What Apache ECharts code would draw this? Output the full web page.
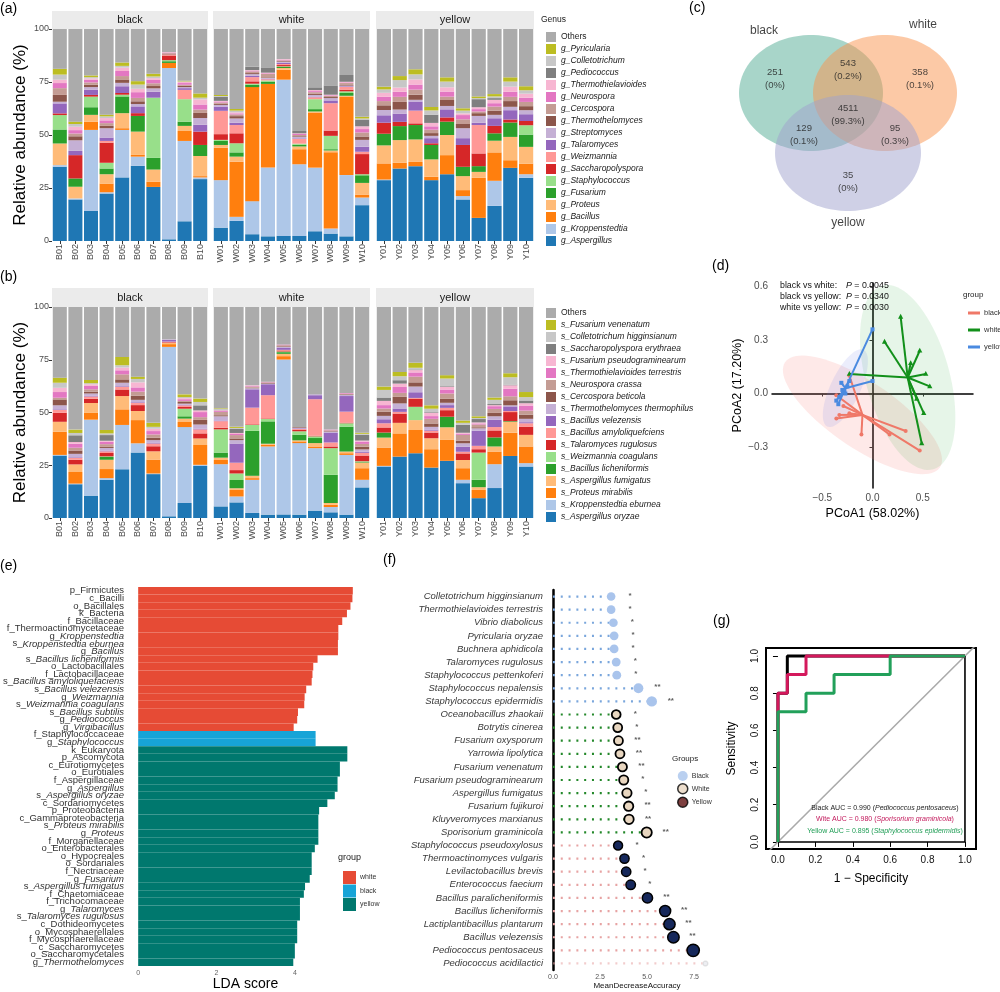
<!DOCTYPE html>
<html>
<head>
<meta charset="utf-8">
<title>Figure</title>
<script src="https://cdn.jsdelivr.net/npm/echarts/dist/echarts.min.js"></script>
<style>html,body{margin:0;padding:0;background:#fff;}#main{width:1000px;height:992px;}</style>
</head>
<body>
<div id="main"></div>
<script>
// ================= DATA =================
const blackSamples = ['B01','B02','B03','B04','B05','B06','B07','B08','B09','B10'];
const whiteSamples = ['W01','W02','W03','W04','W05','W06','W07','W08','W09','W10'];
const yellowSamples = ['Y01','Y02','Y03','Y04','Y05','Y06','Y07','Y08','Y09','Y10'];
const facetNames = ['black','white','yellow'];
const abundanceTicks = [0, 25, 50, 75, 100];

// genus (bottom -> top of stack)
const genusTaxa = ['g_Aspergillus','g_Kroppenstedtia','g_Bacillus','g_Proteus','g_Fusarium','g_Staphylococcus','g_Saccharopolyspora','g_Weizmannia','g_Talaromyces','g_Streptomyces','g_Thermothelomyces','g_Cercospora','g_Neurospora','g_Thermothielavioides','g_Pediococcus','g_Colletotrichum','g_Pyricularia'];
const genusBlack = [
  [35,0.8,0,10.2,6.6,6.8,0.8,0,4.7,0.8,3.2,3.2,2.4,1.6,0,2.4,2.7],
  [19.6,0.5,0,5.5,3.9,0,11,0,2,5,1.9,1.3,1.6,1.6,0,1.3,1.1],
  [14.2,38.2,3.9,3.2,3.6,5,0.8,0,2.4,1.3,1.1,1.1,1.3,0.6,0,0.6,0.8],
  [22.4,0.6,4.1,4.4,2.7,2.7,9.5,0.8,1.6,4.4,1.1,1.3,1.3,1.1,0,0.8,0.8],
  [30,22.4,0.8,7.1,7.9,0.8,0.8,0,3.2,1.6,1.6,1.6,2.4,1.6,0,0.8,1.6],
  [35.5,4.3,0.8,11,7.4,0,1.3,0,3.2,1.1,1.3,1.6,2.7,1.6,0,2,1.6],
  [25.5,0,2.4,5.8,5.5,28.4,0,0,2.8,1.6,1.1,1.3,1.6,0.8,0,0.8,1.3],
  [0.8,80.8,2.4,0,0.8,0.5,2.2,0.5,0,0,0.5,0,0,0.6,0,0,0],
  [9.3,37.9,4.7,2.4,2,10.6,0,4.4,0.8,0.5,0.6,0.5,0.8,0.5,0,0.3,0.3],
  [29.2,0.8,0.6,9.5,5.2,0,6.3,0,3.2,3.2,2.4,1.6,2.4,2.4,0,0.8,2]
];
const genusWhite = [
  [6.3,22.4,15.3,1.3,1.9,0.5,2.7,11,2,0.8,0.5,0.6,0.5,0.3,2,0.3,0.5],
  [9.5,1.9,26,2.4,2,4.3,4.7,3.9,1.1,2,1.1,0.8,0.5,0.5,0,0.8,0.8],
  [3.2,15.6,53.8,0,1.1,0.5,1.1,2,0.6,0.8,0.5,0.8,0.3,0.3,1.6,0,0],
  [2.2,32.5,39.4,0,1.1,0.5,0,0.6,0.3,0.3,0.3,1.6,0.3,0.3,2.5,0,0],
  [2.4,73.7,4.7,0.8,0.5,0.3,0.6,0.5,0.6,0.5,0.3,0.3,0.3,0.3,0,0,0],
  [2.4,33.8,7.1,1.3,0.8,0.5,0,2.2,0.3,0.8,0.3,0.5,0.5,0.3,1.1,0,0],
  [4.6,30,26,0.5,1.1,4.7,0,0.9,0.3,0.8,0.5,0.8,0.5,0.5,1.3,0,0],
  [3.5,2.4,36,0.8,0.6,6.3,2.5,12.9,1.3,1.1,0.5,0.5,0.3,0.3,4.4,0,0],
  [2.2,28.9,37.1,0.3,1.3,0.8,0.8,1.3,0.3,0.3,0.3,0.9,0.3,0.3,3.2,0,0],
  [16.9,3.6,1.4,5.5,3.6,0.5,9.5,1.1,2.4,3.2,1.6,1.9,1.6,1.3,3.2,0.5,0.8]
];
const genusYellow = [
  [28.7,0.3,7.6,8.5,5.5,0,5.2,0,3.5,2.5,2.2,2,2,1.9,0,1.6,1.3],
  [34.2,0,2.7,10.7,6.6,0,2,0,3.9,1.9,3.6,2.4,2.4,2,0,3.5,1.9],
  [35.3,0,2,10.6,6.8,0,0.8,6,4.3,0.8,2.4,2.4,2.4,2.4,0,2.4,2.4],
  [28.7,0,1.6,8.2,6.8,0,0.8,0,2.4,1.1,1.3,1.6,1.6,1.6,3.9,2,1.6],
  [31.5,0,9,9.5,6.3,0,2,0,3.8,1.6,2.8,1.6,2.4,2,0,2.7,2],
  [19.6,1.6,2.8,6.6,4.4,0,10.3,0,3.2,4.7,2,2.2,2,0.8,0,1.3,1.1],
  [10.9,0,18.9,2.8,2.7,0,6,13.4,1.1,3.2,1.3,0.8,1.1,0.9,3.8,0.5,0.8],
  [16.6,11.8,13.4,5.5,3.5,0,3.5,0,3.6,1.6,2,1.9,1.6,1.6,0.8,0.8,1.1],
  [34.5,0,3.6,11,6.8,0,1.4,0,4.4,1.6,2.7,2,2.4,2.4,0,2.4,2],
  [29.8,1.7,5,7.9,5.8,4.4,2,0,3.2,1.9,1.9,2,2,1.9,0,1.6,1.9]
];

// species (bottom -> top of stack)
const speciesTaxa = ['s_Aspergillus oryzae','s_Kroppenstedtia eburnea','s_Proteus mirabilis','s_Aspergillus fumigatus','s_Bacillus licheniformis','s_Weizmannia coagulans','s_Talaromyces rugulosus','s_Bacillus amyloliquefciens','s_Bacillus velezensis','s_Thermothelomyces thermophilus','s_Cercospora beticola','s_Neurospora crassa','s_Thermothielavioides terrestris','s_Fusarium pseudograminearum','s_Saccharopolyspora erythraea','s_Colletotrichum higginsianum','s_Fusarium venenatum'];
const speciesBlack = [
  [29.6,0.3,11,4.7,0,0,4.3,1.3,0.3,1.9,2.8,0.8,2.7,2,0,2.4,2.4],
  [16,0.3,5.5,3.6,0,0,2.2,0.9,0.3,1.6,1.6,1.3,1.9,0.8,3.2,1.1,1.6],
  [10.6,36,3.2,4.7,0,0,2,1.1,0.3,1.1,0.9,1.1,1.6,0.8,0,0.5,1.5],
  [18.1,0.8,4.3,4.4,1.3,0.3,1.6,0.8,0.3,1.3,0.5,1.3,1.1,0.5,2.7,0.8,1.6],
  [23.1,21,7.4,6.3,0,0,3.1,1.3,0.3,1.6,1.6,2.4,1.9,1.3,0,1.1,3.9],
  [31,4.4,11,4.3,0,0,2.8,1.1,0.3,1.1,2,1.9,2,2.4,0,1.6,1.1],
  [20.8,0.3,6.6,3.9,0,0,2.4,1.3,0.3,1.3,1.1,1.6,1.6,1.1,0,0.9,1.9],
  [0.8,80.3,1.3,0.6,0,0,0.3,0.3,0.8,0.3,0,0,0,0,0,0,0],
  [7.1,36,2.4,1.6,1.1,3.6,0.8,0.8,0.3,0.5,0.8,0.5,0.8,0.5,0,0.5,1.3],
  [24.7,0.5,9.4,3.1,0,0,2.4,1.9,0.3,2,2.2,1.3,2.4,0.8,2.4,1.6,1.6]
];
const speciesWhite = [
  [5.5,20,2,1.1,2.4,11,0.8,3.1,0.3,2,0.5,1.6,0.5,0.3,0.3,0.3,0.3],
  [7.4,2.8,3.1,0.8,3.9,3.1,1.6,3.5,9.1,1.6,0.8,1.6,0.5,0.5,1.9,0.5,0.5],
  [2.4,15.7,0.8,1.1,21.3,2.8,0.3,7.9,8.7,0.5,0.3,0.5,0.3,0.3,0,0,0],
  [1.6,32.3,0.8,0.5,10.6,1.1,0.3,11,5.2,0.3,0.3,0.3,0.3,0,0,0,0],
  [1.7,73.4,1.6,1.1,0.8,0.3,0.5,0.3,1.1,0.3,0.3,0.5,0.3,0,0,0,0],
  [1.6,33.9,0.8,0.5,2.7,1.6,0.8,0.3,0.3,0.3,0.3,0,0,0,0,0,0],
  [3.5,29.6,0.8,1.6,2.4,0.8,0.3,17.3,1.9,0.5,0,0,0,0,0,0,0],
  [2.7,2.5,1.1,0.8,13.4,12.6,0.8,1.9,4.7,0.5,0.3,0.3,0.3,0,0,0,0],
  [1.6,28.3,0.8,0.8,11.8,1.6,0.3,5.2,7.4,0.5,0.3,0.3,0.3,0,0,0,0],
  [14.5,3.6,5.5,2.7,0.3,0.3,2.7,1.3,0.5,1.1,1.3,1.3,1.1,0.5,2.7,0.5,0.5]
];
const speciesYellow = [
  [24.4,0.3,8.7,4.7,2.4,0,2.4,2,1.9,1.6,1.9,1.6,1.6,2,1.6,3.6,1.6],
  [29.1,0,11,5,0,0,4.4,0.8,1.6,2.4,3.1,1.9,2.8,1.6,1.6,1.9,2],
  [30.7,0,11,4.7,0,6.3,3.9,0.3,2.7,2.7,2,2.7,2,1.1,0.3,0.8,2.4],
  [23.9,0,8.7,5.2,0,0,2.7,0.9,0.5,1.3,1.6,2.2,1.3,1.6,0.3,1.6,1.6],
  [27.1,0,9.9,6,5,0,3.1,1.1,1.3,1.1,2,2.4,1.9,1.3,0.3,3.6,1.6],
  [16.5,1.6,5.5,3.9,0,0,3.1,0.8,2.4,1.6,1.3,2.7,0.5,0.5,3.8,0.9,1.1],
  [9.4,0,3.9,1.3,3.5,12.9,1.6,1.6,7.2,1.1,0.5,1.3,0.5,0.5,1.6,0.5,0.8],
  [14.2,11.3,6,2.4,4.3,0,3.3,1.6,3.5,1.6,1.6,1.9,1.3,0.5,0.5,2,1.1],
  [29.4,0,11,5.2,0.3,0,4.3,0.5,2.2,0.5,2.4,1.9,3.6,1.6,0.3,3.5,1.9],
  [24.4,1.6,7.9,5.5,0,0,3.9,1.6,0.5,1.6,2,1.9,2.4,1.1,1.3,1.6,2.4]
];

// Venn (c)
const vennSetNames = ['black','white','yellow'];
const vennRegionCounts = [251, 543, 358, 4511, 129, 95, 35];
const vennRegionPercents = ['0%','0.2%','0.1%','99.3%','0.1%','0.3%','0%'];

// PCoA (d)
const pcoaGroups = ['black','white','yellow'];
const pcoaBlackX = [0.33, 0.47, 0.17, -0.11, -0.36, -0.33, -0.36, -0.23, -0.29, -0.23];
const pcoaBlackY = [-0.21, -0.32, -0.23, -0.23, -0.14, -0.12, -0.01, 0.10, -0.07, -0.11];
const pcoaWhiteX = [0.28, 0.12, 0.47, 0.53, 0.57, 0.51, 0.49, -0.23, 0.44, 0.38];
const pcoaWhiteY = [0.43, 0.29, 0.24, 0.11, 0.04, -0.11, -0.28, 0.11, -0.03, 0.17];
const pcoaYellowX = [0.00, 0.00, -0.31, -0.34, -0.33, -0.30, -0.23, -0.36, -0.27, -0.25];
const pcoaYellowY = [0.36, 0.07, 0.06, -0.06, -0.02, 0.02, 0.07, -0.04, 0.00, 0.04];
const pcoaCentroidX = [-0.10, 0.35, -0.27];
const pcoaCentroidY = [-0.12, 0.09, 0.03];
const pcoaTests = ['black vs white:', 'black vs yellow:', 'white vs yellow:'];
const pcoaPValues = ['0.0045', '0.0340', '0.0030'];
const pcoaXTicks = [-0.5, 0, 0.5];
const pcoaYTicks = [-0.3, 0, 0.3, 0.6];

// LEfSe (e)
const ldaFeatures = ['p_Firmicutes','c_Bacilli','o_Bacillales','k_Bacteria','f_Bacillaceae','f_Thermoactinomycetaceae','g_Kroppenstedtia','s_Kroppenstedtia eburnea','g_Bacillus','s_Bacillus licheniformis','o_Lactobacillales','f_Lactobacillaceae','s_Bacillus amyloliquefaciens','s_Bacillus velezensis','g_Weizmannia','s_Weizmannia coagulans','s_Bacillus subtilis','g_Pediococcus','g_Virgibacillus','f_Staphylococcaceae','g_Staphylococcus','k_Eukaryota','p_Ascomycota','c_Eurotiomycetes','o_Eurotiales','f_Aspergillaceae','g_Aspergillus','s_Aspergillus oryzae','c_Sordariomycetes','p_Proteobacteria','c_Gammaproteobacteria','s_Proteus mirabilis','g_Proteus','f_Morganellaceae','o_Enterobacterales','o_Hypocreales','o_Sordariales','f_Nectriaceae','g_Fusarium','s_Aspergillus fumigatus','f_Chaetomiaceae','f_Trichocomaceae','g_Talaromyces','s_Talaromyces rugulosus','c_Dothideomycetes','o_Mycosphaerellales','f_Mycosphaerellaceae','c_Saccharomycetes','o_Saccharomycetales','g_Thermothelomyces'];
const ldaScores = [5.48,5.47,5.42,5.33,5.21,5.11,5.11,5.10,5.10,4.58,4.47,4.45,4.43,4.29,4.25,4.24,4.08,4.06,3.97,4.53,4.53,5.34,5.34,5.15,5.15,5.09,5.09,5.02,4.83,4.62,4.60,4.60,4.60,4.60,4.51,4.43,4.43,4.43,4.38,4.26,4.23,4.13,4.13,4.13,4.06,4.06,4.06,4.00,4.00,3.96];
const ldaGroups = ['white','white','white','white','white','white','white','white','white','white','white','white','white','white','white','white','white','white','white','black','black','yellow','yellow','yellow','yellow','yellow','yellow','yellow','yellow','yellow','yellow','yellow','yellow','yellow','yellow','yellow','yellow','yellow','yellow','yellow','yellow','yellow','yellow','yellow','yellow','yellow','yellow','yellow','yellow','yellow'];
const ldaGroupOrder = ['white','black','yellow'];
const ldaTicks = [0, 2, 4];

// Random forest (f)
const rfSpecies = ['Colletotrichum higginsianum','Thermothielavioides terrestris','Vibrio diabolicus','Pyricularia oryzae','Buchnera aphidicola','Talaromyces rugulosus','Staphylococcus pettenkoferi','Staphylococcus nepalensis','Staphylococcus epidermidis','Oceanobacillus zhaokaii','Botrytis cinerea','Fusarium oxysporum','Yarrowia lipolytica','Fusarium venenatum','Fusarium pseudograminearum','Aspergillus fumigatus','Fusarium fujikuroi','Kluyveromyces marxianus','Sporisorium graminicola','Staphylococcus pseudoxylosus','Thermoactinomyces vulgaris','Levilactobacillus brevis','Enterococcus faecium','Bacillus paralicheniformis','Bacillus licheniformis','Lactiplantibacillus plantarum','Bacillus velezensis','Pediococcus pentosaceus','Pediococcus acidilactici'];
const rfValues = [3.09,3.09,3.21,3.25,3.25,3.36,3.39,4.54,5.25,3.36,3.44,3.48,3.56,3.69,3.76,3.93,4.02,4.04,4.98,3.46,3.80,3.89,4.13,5.02,5.96,6.19,6.40,7.45,8.10];
const rfGroups = ['Black','Black','Black','Black','Black','Black','Black','Black','Black','White','White','White','White','White','White','White','White','White','White','Yellow','Yellow','Yellow','Yellow','Yellow','Yellow','Yellow','Yellow','Yellow','Yellow'];
const rfSig = ['*','*','*','*','*','*','*','**','**','*','*','**','**','**','*','*','**','**','**','*','*','*','*','**','**','**','**','',''];
const rfFaded = ['Pediococcus acidilactici'];
const rfGroupOrder = ['Black','White','Yellow'];
const rfTicks = [0, 2.5, 5, 7.5];

// ROC (g)
const rocBlackX = [0, 0, 0.05, 0.05, 1];
const rocBlackY = [0, 0.8, 0.8, 1, 1];
const rocWhiteX = [0, 0, 0.05, 0.05, 0.15, 0.15, 1];
const rocWhiteY = [0, 0.8, 0.8, 0.9, 0.9, 1, 1];
const rocYellowX = [0, 0, 0.15, 0.15, 0.3, 0.3, 0.6, 0.6, 1];
const rocYellowY = [0, 0.7, 0.7, 0.8, 0.8, 0.9, 0.9, 1, 1];
const rocTicks = [0, 0.2, 0.4, 0.6, 0.8, 1];
const rocAucLabels = ['Black AUC = 0.990', 'Wite AUC = 0.980', 'Yellow AUC = 0.895'];
const rocAucSpecies = ['Pediococcus pentosaceus', 'Sporisorium graminicola', 'Staphylococcus epidermidis'];

// ================= CHART =================
const FONT = '"Liberation Sans", Arial, Helvetica, sans-serif';
const TXT = '#4d4d4d';
const chart = echarts.init(document.getElementById('main'), null, {renderer: 'canvas'});
const grid = [], xAxis = [], yAxis = [], series = [], legend = [], graphic = [];

function text(t, x, y, size, opts) {
  opts = opts || {};
  graphic.push({type: 'text', x: x, y: y, silent: true, z: 100, style: Object.assign({
    text: t, fontSize: size, fontFamily: FONT, fill: opts.fill || '#000',
    textAlign: opts.align || 'left', textVerticalAlign: opts.valign || 'middle'
  }, opts.extra || {})});
}
function zip(xs, ys) { return xs.map((x, i) => [x, ys[i]]); }
const minusFmt = d => v => (v < 0 ? '\u2212' : '') + Math.abs(v).toFixed(d);

// ---------- (a)/(b) stacked bars ----------
const facetLeft = [52, 213, 376];
const facetWidth = [156, 157, 158];
const facetSamples = [blackSamples, whiteSamples, yellowSamples];
const tab20 = ['#1f77b4','#aec7e8','#ff7f0e','#ffbb78','#2ca02c','#98df8a','#d62728','#ff9896','#9467bd','#c5b0d5','#8c564b','#c49c94','#e377c2','#f7b6d2','#7f7f7f','#c7c7c7','#bcbd22'];
const othersColor = '#ababab';

function stackedPanel(top, height, stripTop, taxa, facetData, key) {
  facetNames.forEach((fname, fi) => {
    const gi = grid.length;
    grid.push({left: facetLeft[fi], top: top, width: facetWidth[fi], height: height});
    xAxis.push({type: 'category', gridIndex: gi, data: facetSamples[fi],
      axisLine: {show: false},
      axisTick: {show: true, alignWithLabel: true, length: 3, lineStyle: {color: '#333'}},
      axisLabel: {rotate: 90, fontSize: 9, color: TXT, fontFamily: FONT, margin: 3}});
    yAxis.push({type: 'value', gridIndex: gi, min: abundanceTicks[0], max: abundanceTicks[abundanceTicks.length - 1], interval: 25,
      splitLine: {show: false}, axisLine: {show: false},
      axisTick: {show: fi === 0, length: 3, lineStyle: {color: '#333'}},
      axisLabel: {show: fi === 0, fontSize: 9, color: TXT, fontFamily: FONT, margin: 3},
      name: fi === 0 ? 'Relative abundance (%)' : '', nameLocation: 'middle', nameGap: 23,
      nameTextStyle: {fontSize: 17, fontFamily: FONT, color: '#000'}});
    const rows = facetData[fi];
    taxa.forEach((t, k) => series.push({type: 'bar', name: t, xAxisIndex: gi, yAxisIndex: gi, stack: key + fi,
      barCategoryGap: '10%', data: rows.map(r => r[k]), itemStyle: {color: tab20[k]}, silent: true}));
    series.push({type: 'bar', name: 'Others', xAxisIndex: gi, yAxisIndex: gi, stack: key + fi, barCategoryGap: '10%',
      data: rows.map(r => +(100 - r.reduce((a, b) => a + b, 0)).toFixed(2)), itemStyle: {color: othersColor}, silent: true});
    graphic.push({type: 'rect', silent: true, shape: {x: facetLeft[fi], y: stripTop, width: facetWidth[fi], height: top - stripTop}, style: {fill: '#ebebeb'}});
    text(fname, facetLeft[fi] + facetWidth[fi] / 2, stripTop + (top - stripTop) / 2, 11, {align: 'center', fill: '#1a1a1a'});
  });
}
stackedPanel(29, 212, 11, genusTaxa, [genusBlack, genusWhite, genusYellow], 'a');
stackedPanel(307, 211, 288, speciesTaxa, [speciesBlack, speciesWhite, speciesYellow], 'b');

function taxaLegend(top, taxa) {
  legend.push({orient: 'vertical', left: 541, top: top, itemWidth: 10, itemHeight: 10, itemGap: 2, icon: 'rect',
    selectedMode: false, data: ['Others'].concat(taxa.slice().reverse()),
    formatter: n => n === 'Others' ? n : '{i|' + n + '}',
    textStyle: {fontSize: 8.5, fontFamily: FONT, color: '#1a1a1a',
      rich: {i: {fontStyle: 'italic', fontSize: 8.5, fontFamily: FONT, color: '#1a1a1a'}}}});
}
taxaLegend(27, genusTaxa);
taxaLegend(303, speciesTaxa);
text('Genus', 541, 20, 8.5, {fill: '#1a1a1a'});

// ---------- (c) Venn ----------
const gV = grid.length;
grid.push({left: 740, top: 0, width: 260, height: 240});
xAxis.push({type: 'value', gridIndex: gV, min: 0, max: 260, show: false});
yAxis.push({type: 'value', gridIndex: gV, min: 0, max: 240, inverse: true, show: false});
const vennShapes = [{cx: 71, cy: 93, rx: 72, ry: 58}, {cx: 145, cy: 93, rx: 72, ry: 58}, {cx: 108, cy: 153, rx: 73, ry: 58}];
const vennFill = ['#51ab93', '#f9934d', '#9fa1cd'];
const vennRegionPos = [[35, 79], [108, 70], [180, 79], [108, 115], [64, 135], [155, 135], [108, 182]];
const vennNamePos = [[24, 31], [183, 25], [108, 223]];
series.push({type: 'custom', xAxisIndex: gV, yAxisIndex: gV, silent: true,
  data: vennShapes.map(e => [e.cx, e.cy]),
  renderItem: (p, api) => {
    const e = vennShapes[p.dataIndex], pts = [];
    for (let k = 0; k < 90; k++) { const t = k / 90 * Math.PI * 2; pts.push(api.coord([e.cx + e.rx * Math.cos(t), e.cy + e.ry * Math.sin(t)])); }
    return {type: 'polygon', shape: {points: pts}, style: {fill: vennFill[p.dataIndex], opacity: 0.5}};
  }});
series.push({type: 'scatter', xAxisIndex: gV, yAxisIndex: gV, silent: true, symbolSize: 1, itemStyle: {color: 'rgba(0,0,0,0)'},
  data: vennRegionPos, z: 5,
  label: {show: true, position: 'inside', formatter: p => vennRegionCounts[p.dataIndex] + '\n(' + vennRegionPercents[p.dataIndex] + ')',
    fontSize: 9.5, lineHeight: 13, fontFamily: FONT, color: '#222'}});
series.push({type: 'scatter', xAxisIndex: gV, yAxisIndex: gV, silent: true, symbolSize: 1, itemStyle: {color: 'rgba(0,0,0,0)'},
  data: vennNamePos, z: 5,
  label: {show: true, position: 'inside', formatter: p => vennSetNames[p.dataIndex], fontSize: 12, fontFamily: FONT, color: '#111'}});

// ---------- (d) PCoA ----------
const gP = grid.length;
grid.push({left: 772, top: 283, width: 201, height: 205});
xAxis.push({type: 'value', gridIndex: gP, min: -1, max: 1, splitLine: {show: false},
  axisLine: {lineStyle: {color: '#000', width: 1.5}},
  axisTick: {customValues: pcoaXTicks, length: 3, lineStyle: {color: '#333'}},
  axisLabel: {customValues: pcoaXTicks, formatter: minusFmt(1), fontSize: 10, color: TXT, fontFamily: FONT, margin: 5},
  name: 'PCoA1 (58.02%)', nameLocation: 'middle', nameGap: 19, nameTextStyle: {fontSize: 12.5, fontFamily: FONT, color: '#000'}});
yAxis.push({type: 'value', gridIndex: gP, min: -0.53, max: 0.62, splitLine: {show: false},
  axisLine: {lineStyle: {color: '#000', width: 1.5}},
  axisTick: {customValues: pcoaYTicks, length: 3, lineStyle: {color: '#333'}},
  axisLabel: {customValues: pcoaYTicks, formatter: minusFmt(1), fontSize: 10, color: TXT, fontFamily: FONT, margin: 4},
  name: 'PCoA2 (17.20%)', nameLocation: 'middle', nameGap: 25, nameTextStyle: {fontSize: 12.5, fontFamily: FONT, color: '#000'}});
const pcoaColors = ['#ef7868', '#12901a', '#4a8ae0'];
const pcoaEllipseFill = ['#f8766d', '#1fa02a', '#6f7fe8'];
const pcoaEllipseOpacity = [0.16, 0.11, 0.14];
// ellipse conjugate semi-axes (data units)
const pcoaEllipseAxes = [[0.77, -0.295, -0.183, -0.154], [0.255, -0.515, 0.40, 0.064], [0.18, 0.215, 0.134, -0.036]];
series.push({type: 'custom', xAxisIndex: gP, yAxisIndex: gP, silent: true, z: 1,
  data: pcoaCentroidX.map((x, i) => [x, pcoaCentroidY[i]]),
  renderItem: (p, api) => {
    const i = p.dataIndex, a = pcoaEllipseAxes[i], cx = api.value(0), cy = api.value(1), pts = [];
    for (let k = 0; k < 90; k++) { const t = k / 90 * Math.PI * 2, c = Math.cos(t), s = Math.sin(t);
      pts.push(api.coord([cx + a[0] * c + a[2] * s, cy + a[1] * c + a[3] * s])); }
    return {type: 'polygon', shape: {points: pts}, style: {fill: pcoaEllipseFill[i], opacity: pcoaEllipseOpacity[i]}};
  }});
const pcoaXs = [pcoaBlackX, pcoaWhiteX, pcoaYellowX], pcoaYs = [pcoaBlackY, pcoaWhiteY, pcoaYellowY];
pcoaGroups.forEach((g, gi) => {
  const col = pcoaColors[gi];
  series.push({type: 'custom', name: 'PCoA:' + g, xAxisIndex: gP, yAxisIndex: gP, silent: true, z: 3,
    itemStyle: {color: col}, data: zip(pcoaXs[gi], pcoaYs[gi]),
    renderItem: (p, api) => {
      const e = api.coord([api.value(0), api.value(1)]);
      const c = api.coord([pcoaCentroidX[gi], pcoaCentroidY[gi]]);
      const mark = gi === 0 ? {type: 'circle', shape: {cx: e[0], cy: e[1], r: 2}, style: {fill: col}}
        : gi === 1 ? {type: 'polygon', shape: {points: [[e[0], e[1] - 3], [e[0] - 2.6, e[1] + 1.8], [e[0] + 2.6, e[1] + 1.8]]}, style: {fill: col}}
        : {type: 'rect', shape: {x: e[0] - 2, y: e[1] - 2, width: 4, height: 4}, style: {fill: col}};
      return {type: 'group', children: [
        {type: 'line', shape: {x1: c[0], y1: c[1], x2: e[0], y2: e[1]}, style: {stroke: col, lineWidth: 2}}, mark]};
    }});
});
legend.push({orient: 'vertical', left: 963, top: 304, itemWidth: 12, itemHeight: 3, itemGap: 9, selectedMode: false,
  data: pcoaGroups.map((g, i) => ({name: 'PCoA:' + g, icon: 'rect', itemStyle: {color: pcoaColors[i]}})),
  formatter: n => n.split(':')[1], textStyle: {fontSize: 7.5, fontFamily: FONT, color: '#333', padding: [0, 0, 0, -1]}});
text('group', 963, 295, 8, {fill: '#222'});
pcoaTests.forEach((t, i) => {
  text(t, 780, 286 + i * 11, 8.8, {fill: '#111'});
  graphic.push({type: 'text', x: 846, y: 286 + i * 11, silent: true, z: 100, style: {
    text: '{i|P} = ' + pcoaPValues[i], fontSize: 8.8, fontFamily: FONT, fill: '#111', textVerticalAlign: 'middle',
    rich: {i: {fontStyle: 'italic', fontSize: 8.8, fontFamily: FONT, fill: '#111'}}}});
});

// ---------- (e) LDA ----------
const gL = grid.length;
grid.push({left: 128, top: 587, width: 235, height: 381});
xAxis.push({type: 'value', gridIndex: gL, min: -0.26, max: 5.74, splitLine: {show: false},
  axisLine: {lineStyle: {color: '#8c8c8c', width: 2}},
  axisTick: {customValues: ldaTicks, length: 2, lineStyle: {color: '#8c8c8c'}},
  axisLabel: {customValues: ldaTicks, fontSize: 7, color: '#666', fontFamily: FONT, margin: 3},
  name: 'LDA score', nameLocation: 'middle', nameGap: 10, nameTextStyle: {fontSize: 14, fontFamily: FONT, color: '#000', verticalAlign: 'top'}});
yAxis.push({type: 'category', gridIndex: gL, data: ldaFeatures, inverse: true,
  axisLine: {show: false}, axisTick: {length: 3, lineStyle: {color: '#333'}},
  axisLabel: {interval: 0, margin: 4, formatter: v => { const m = /^([gs]_)(.*)$/.exec(v); return m ? '{n|' + m[1] + '}{i|' + m[2] + '}' : '{n|' + v + '}'; },
    rich: {n: {fontSize: 9.5, fontFamily: FONT, color: '#333', lineHeight: 10}, i: {fontSize: 9.5, fontFamily: FONT, color: '#333', fontStyle: 'italic', lineHeight: 10}}}});
const ldaColors = {white: '#e64b35', black: '#17a4d7', yellow: '#00786e'};
ldaGroupOrder.forEach(g => series.push({type: 'bar', name: 'LDA:' + g, xAxisIndex: gL, yAxisIndex: gL, stack: 'lda', barCategoryGap: '0%', silent: true,
  itemStyle: {color: ldaColors[g]}, data: ldaScores.map((v, i) => ldaGroups[i] === g ? v : '-')}));
legend.push({orient: 'vertical', left: 338, top: 866, itemWidth: 13, itemHeight: 13, itemGap: 0.5, icon: 'rect', selectedMode: false,
  data: ldaGroupOrder.map(g => 'LDA:' + g), formatter: n => n.split(':')[1],
  textStyle: {fontSize: 7, fontFamily: FONT, color: '#333', padding: [0, 0, 0, -1]}});
text('group', 338, 858, 9, {fill: '#222'});

// ---------- (f) Random forest ----------
const gF = grid.length;
grid.push({left: 546, top: 590, width: 182, height: 380});
xAxis.push({type: 'value', gridIndex: gF, min: -0.37, max: 9.3, splitLine: {show: false},
  axisLine: {lineStyle: {color: '#000', width: 2.5}},
  axisTick: {customValues: rfTicks, length: 3, lineStyle: {color: '#333'}},
  axisLabel: {customValues: rfTicks, formatter: v => v.toFixed(1), fontSize: 7, color: '#555', fontFamily: FONT, margin: 4},
  name: 'MeanDecreaseAccuracy', nameLocation: 'middle', nameGap: 11, nameTextStyle: {fontSize: 8, fontFamily: FONT, color: '#111', verticalAlign: 'top'}});
yAxis.push({type: 'category', gridIndex: gF, data: rfSpecies, inverse: true,
  axisLine: {lineStyle: {color: '#000', width: 2.5}}, axisTick: {length: 3, lineStyle: {color: '#444'}},
  axisLabel: {interval: 0, margin: 3, fontSize: 9.5, fontStyle: 'italic', fontFamily: FONT, color: '#3a3a3a'}});
const rfDotColors = {Black: '#7aa6dc', White: '#23882a', Yellow: '#e7a3a3'};
const rfFill = {Black: '#a9c4ec', White: '#e8d6c0', Yellow: '#16285b'};
const rfBorder = {Black: 0, White: 1.8, Yellow: 1.5};
const isFaded = i => rfFaded.indexOf(rfSpecies[i]) >= 0;
series.push({type: 'custom', xAxisIndex: gF, yAxisIndex: gF, silent: true, z: 2,
  data: rfValues.map((v, i) => [v, i]),
  renderItem: (p, api) => {
    const i = p.dataIndex, a = api.coord([0, i]), b = api.coord([api.value(0), i]);
    return {type: 'line', shape: {x1: a[0], y1: a[1], x2: b[0] - 3, y2: b[1]},
      style: {stroke: rfDotColors[rfGroups[i]], lineWidth: 2.2, lineDash: [2, 5.8], opacity: isFaded(i) ? 0.55 : 1}};
  }});
rfGroupOrder.forEach(g => series.push({type: 'scatter', name: 'RF:' + g, xAxisIndex: gF, yAxisIndex: gF, silent: true, z: 3,
  symbolSize: val => 6 + val[0] * 0.85,
  itemStyle: {color: rfFill[g], borderColor: '#000', borderWidth: rfBorder[g]},
  data: rfValues.map((v, i) => rfGroups[i] === g ? {value: [v, i], symbolSize: isFaded(i) ? 5 : undefined,
    itemStyle: {opacity: isFaded(i) ? 0.08 : 1}} : null).filter(d => d)}));
series.push({type: 'scatter', xAxisIndex: gF, yAxisIndex: gF, silent: true, z: 4, symbolSize: 1, itemStyle: {color: 'rgba(0,0,0,0)'},
  data: rfValues.map((v, i) => [v, i]),
  label: {show: true, position: 'inside', offset: [19, -1], formatter: p => rfSig[p.dataIndex], fontSize: 8, fontWeight: 'bold', color: '#333', fontFamily: FONT}});
legend.push({orient: 'vertical', left: 672, top: 766, itemWidth: 10, itemHeight: 10, itemGap: 2, selectedMode: false,
  data: [{name: 'RF:Black', icon: 'circle', itemStyle: {color: '#a9c4ec', borderWidth: 0}},
         {name: 'RF:White', icon: 'circle', itemStyle: {color: '#e8d6c0', borderColor: '#000', borderWidth: 1.5}},
         {name: 'RF:Yellow', icon: 'circle', itemStyle: {color: '#5c0f0f', borderColor: '#000', borderWidth: 1.5}}],
  formatter: n => n.split(':')[1], textStyle: {fontSize: 7, fontFamily: FONT, color: '#333', padding: [0, 0, 0, -1]}});
text('Groups', 672, 759, 8, {fill: '#222'});

// ---------- (g) ROC ----------
const gR = grid.length;
grid.push({left: 766, top: 648, width: 210, height: 201, show: true, borderColor: '#000', borderWidth: 2, backgroundColor: 'transparent'});
xAxis.push({type: 'value', gridIndex: gR, min: -0.064, max: 1.059, splitLine: {show: false}, axisLine: {show: false},
  axisTick: {show: true, customValues: rocTicks, length: 5, lineStyle: {color: '#000'}},
  axisLabel: {customValues: rocTicks, formatter: v => v.toFixed(1), fontSize: 10, color: '#111', fontFamily: FONT, margin: 6},
  name: '1 \u2212 Specificity', nameLocation: 'middle', nameGap: 24, nameTextStyle: {fontSize: 12, fontFamily: FONT, color: '#000', verticalAlign: 'top'}});
yAxis.push({type: 'value', gridIndex: gR, min: -0.038, max: 1.043, splitLine: {show: false}, axisLine: {show: false},
  axisTick: {show: true, customValues: rocTicks, length: 5, lineStyle: {color: '#000'}},
  axisLabel: {customValues: rocTicks, formatter: v => v.toFixed(1), rotate: 90, fontSize: 10, color: '#111', fontFamily: FONT, margin: 6},
  name: 'Sensitivity', nameLocation: 'middle', nameGap: 28, nameTextStyle: {fontSize: 12, fontFamily: FONT, color: '#000'}});
const rocLine = (data, color, width, z) => ({type: 'line', xAxisIndex: gR, yAxisIndex: gR, data: data, showSymbol: false, silent: true, z: z,
  lineStyle: {color: color, width: width}, itemStyle: {color: color}, animation: false});
series.push(rocLine([[-0.064, -0.064], [1.059, 1.059]], '#aaaaaa', 1.5, 2));
series.push(rocLine([[0, 0], [1, 0], [1, 1]], '#000', 1.6, 3));
series.push(rocLine(zip(rocBlackX, rocBlackY), '#000000', 3, 4));
series.push(rocLine(zip(rocWhiteX, rocWhiteY), '#d4185c', 3, 5));
series.push(rocLine(zip(rocYellowX, rocYellowY), '#22a05a', 3, 6));
const rocTextColors = ['#222', '#c2185b', '#1f9d55'];
rocAucLabels.forEach((t, i) => graphic.push({type: 'text', x: 885, y: 808 + i * 11.5, silent: true, z: 100, style: {
  text: t + ' ({i|' + rocAucSpecies[i] + '})', fontSize: 7, fontFamily: FONT, fill: rocTextColors[i], textAlign: 'center', textVerticalAlign: 'middle',
  rich: {i: {fontStyle: 'italic', fontSize: 7, fontFamily: FONT, fill: rocTextColors[i]}}}}));

// ---------- panel letters ----------
text('(a)', 0, 9, 14);
text('(b)', 0, 277, 14);
text('(c)', 689, 8, 14);
text('(d)', 712, 266, 14);
text('(e)', 0, 566, 14);
text('(f)', 383, 560, 14);
text('(g)', 713, 621, 14);

chart.setOption({
  animation: false,
  backgroundColor: '#ffffff',
  textStyle: {fontFamily: FONT},
  grid: grid, xAxis: xAxis, yAxis: yAxis, series: series, legend: legend, graphic: graphic
});
</script>
</body>
</html>
